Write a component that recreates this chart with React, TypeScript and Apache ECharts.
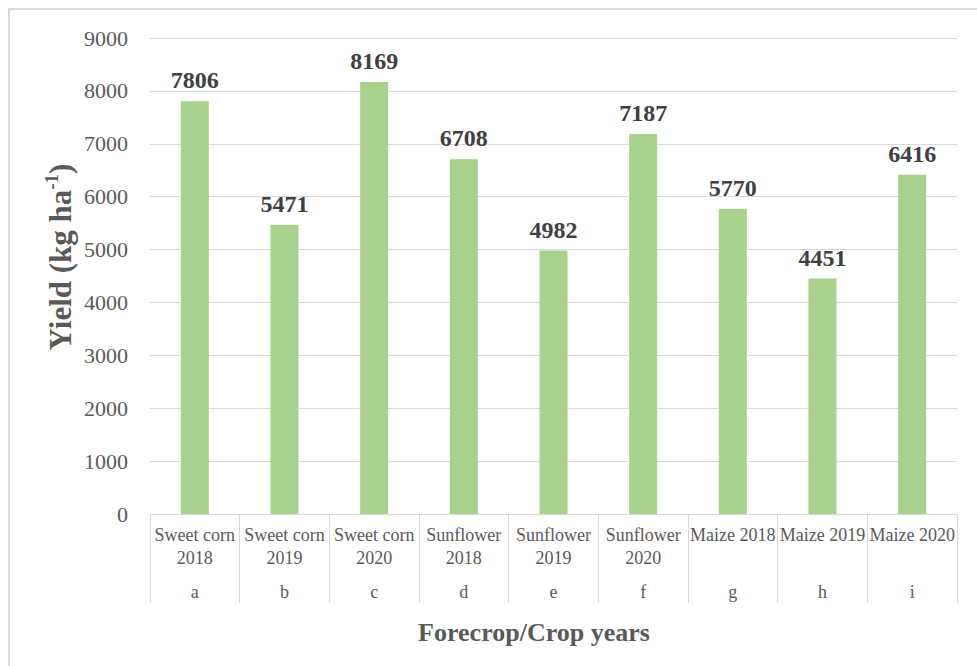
import React, { useEffect, useRef } from "react";
import * as echarts from "echarts";

const categories = [
  "Sweet corn\n2018",
  "Sweet corn\n2019",
  "Sweet corn\n2020",
  "Sunflower\n2018",
  "Sunflower\n2019",
  "Sunflower\n2020",
  "Maize 2018",
  "Maize 2019",
  "Maize 2020",
];
const letters = ["a", "b", "c", "d", "e", "f", "g", "h", "i"];
const yieldValues = [7806, 5471, 8169, 6708, 4982, 7187, 5770, 4451, 6416];

const FONT = "Liberation Serif";
const GRAY = "#595959";
const LINE = "#D9D9D9";

export default function App() {
  const ref = useRef<HTMLDivElement>(null);
  useEffect(() => {
    if (!ref.current) return;
    const chart = echarts.init(ref.current, null, { renderer: "svg" });
    chart.setOption({
      animation: false,
      backgroundColor: "#ffffff",
      textStyle: { fontFamily: FONT },
      grid: { left: 150, right: 20, top: 38, bottom: 152, containLabel: false },
      xAxis: [
        {
          type: "category",
          data: categories,
          position: "bottom",
          axisLine: { show: true, lineStyle: { color: LINE, width: 1 } },
          axisTick: { show: true, length: 89, lineStyle: { color: LINE, width: 1 } },
          axisLabel: {
            interval: 0,
            margin: 9,
            color: GRAY,
            fontFamily: FONT,
            fontSize: 18,
            lineHeight: 23,
          },
          splitLine: { show: false },
        },
        {
          type: "category",
          data: letters,
          position: "bottom",
          axisLine: { show: false },
          axisTick: { show: false },
          axisLabel: {
            interval: 0,
            margin: 66,
            color: GRAY,
            fontFamily: FONT,
            fontSize: 18,
            lineHeight: 23,
          },
          splitLine: { show: false },
        },
      ],
      yAxis: {
        type: "value",
        min: 0,
        max: 9000,
        interval: 1000,
        axisLine: { show: false },
        axisTick: { show: false },
        axisLabel: {
          margin: 22,
          color: GRAY,
          fontFamily: FONT,
          fontSize: 22,
          formatter: (v: number) => String(v),
        },
        splitLine: { lineStyle: { color: LINE, width: 1 } },
      },
      series: [
        {
          type: "bar",
          xAxisIndex: 0,
          data: yieldValues,
          barWidth: 28,
          itemStyle: { color: "#A9D18E" },
          label: {
            show: true,
            position: "top",
            distance: 9,
            color: "#404040",
            fontFamily: FONT,
            fontWeight: "bold",
            fontSize: 24,
          },
        },
      ],
      graphic: [
        {
          type: "rect",
          silent: true,
          shape: { x: 9, y: 9, width: 1000, height: 700 },
          style: { fill: "none", stroke: LINE, lineWidth: 2 },
        },
        {
          type: "text",
          x: 534,
          y: 632,
          style: {
            text: "Forecrop/Crop years",
            fill: GRAY,
            font: `bold 26px ${FONT}`,
            textAlign: "center",
            textVerticalAlign: "middle",
          },
        },
        {
          type: "text",
          x: 60,
          y: 257,
          rotation: Math.PI / 2,
          style: {
            text: "{t|Yield (kg ha}{s|-1}{t|)}",
            textAlign: "center",
            textVerticalAlign: "middle",
            rich: {
              t: { fontFamily: FONT, fontWeight: "bold", fontSize: 31, fill: GRAY, lineHeight: 36 },
              s: {
                fontFamily: FONT,
                fontWeight: "bold",
                fontSize: 19,
                fill: GRAY,
                verticalAlign: "top",
                lineHeight: 20,
              },
            },
          },
        },
      ],
    });
    return () => chart.dispose();
  }, []);
  return (
    <div
      ref={ref}
      style={{ position: "fixed", left: 0, top: 0, width: 977, height: 666, background: "#fff" }}
    />
  );
}
